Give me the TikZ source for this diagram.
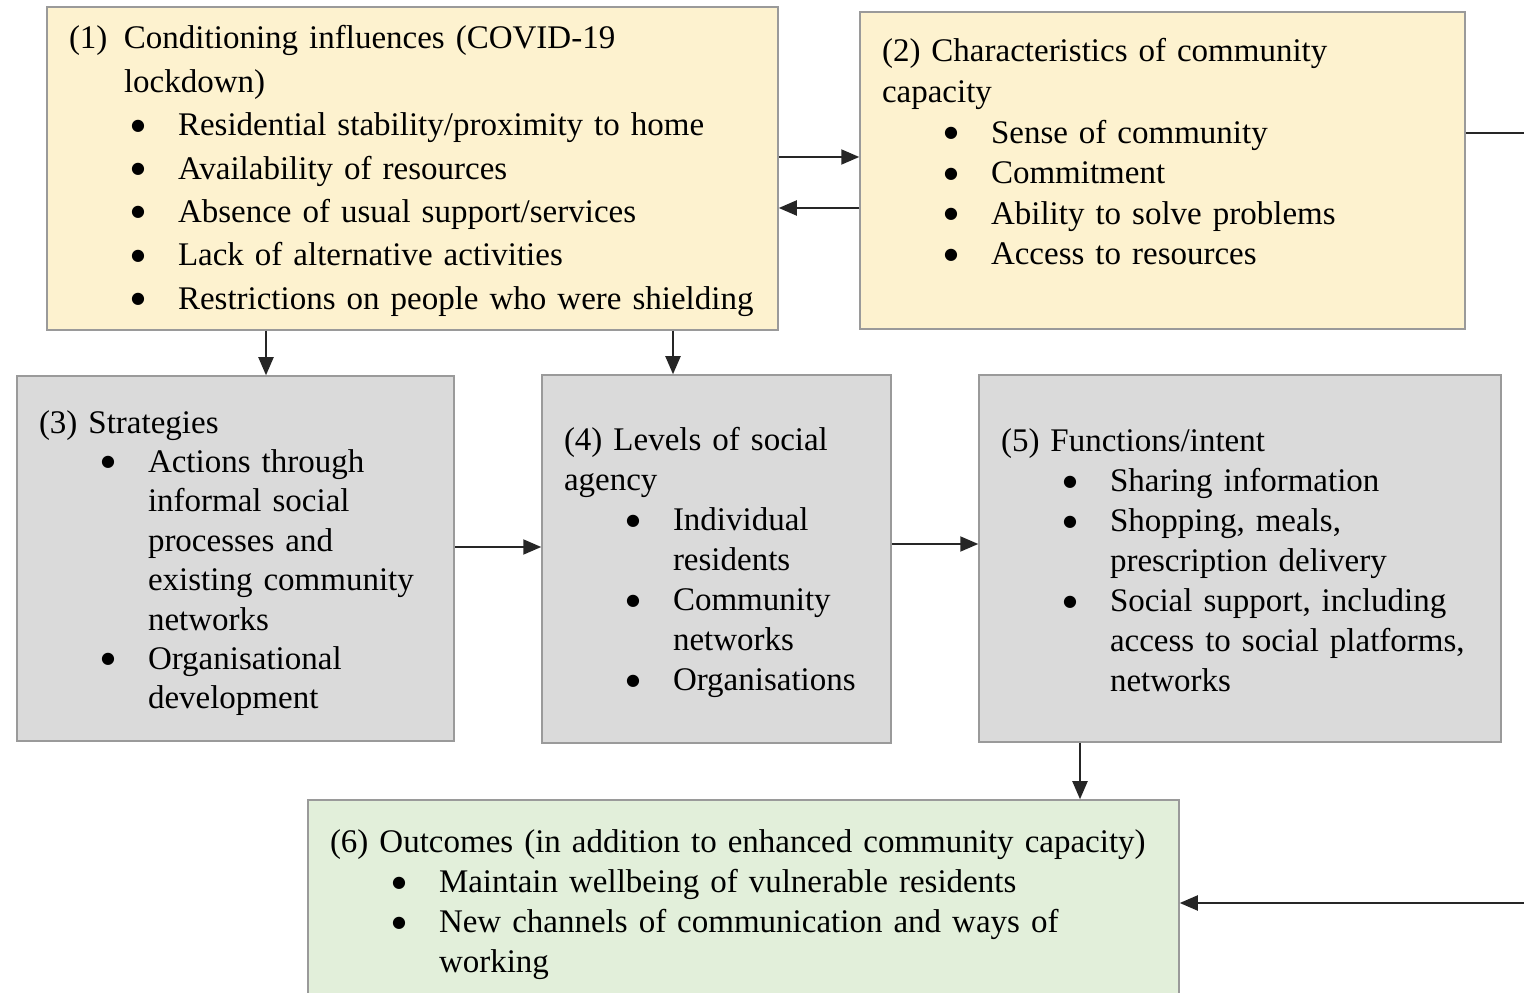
\documentclass[tikz,border=0pt]{standalone}
\usepackage{fontspec}
\setmainfont{Liberation Serif}
\newfontfamily\dotfont{DejaVu Sans}
\usetikzlibrary{arrows.meta}
\definecolor{boxyellow}{HTML}{FDF2CF}
\definecolor{boxgray}{HTML}{DADADA}
\definecolor{boxgreen}{HTML}{E2EFDA}
\definecolor{boxline}{HTML}{9A9A9A}
\newcommand{\bul}{\par\noindent\hangindent=109bp\hangafter=1\hspace*{62bp}\makebox[47bp][l]{\raisebox{5.5bp}{\dotfont\fontsize{16bp}{16bp}\selectfont ●}}}
\newcommand{\head}[1]{\noindent\hangindent=55bp\hangafter=1\makebox[55bp][l]{#1}}
\begin{document}
\begin{tikzpicture}[box/.style={draw=boxline,line width=1.5bp,rectangle,inner xsep=22bp,inner ysep=0bp,align=left,font=\fontsize{33bp}{40bp}\selectfont},
	arr/.style={-{Triangle[length=18bp,width=15bp]},line width=2bp,draw=black!85}]
		%%
  \useasboundingbox (0,0) rectangle (1524bp,993bp);
  \clip (0,0) rectangle (1524bp,993bp);
  \node (Cond) at (412.5bp,824.5bp) [box,fill=boxyellow,text width=687bp,minimum height=323bp,font=\fontsize{33bp}{43.4bp}\selectfont]
    {\head{(1)}Conditioning influences (COVID-19\newline lockdown)
     \bul Residential stability/proximity to home
     \bul Availability of resources
     \bul Absence of usual support/services
     \bul Lack of alternative activities
     \bul Restrictions on people who were shielding\par\kern-5bp};
  \node (Cap) at (1162.5bp,822.5bp) [box,fill=boxyellow,text width=561bp,minimum height=317bp,font=\fontsize{33bp}{40.6bp}\selectfont]
    {(2) Characteristics of community\newline capacity
     \bul Sense of community
     \bul Commitment
     \bul Ability to solve problems
     \bul Access to resources\par\kern37bp};
  \node (Strat) at (235.5bp,434.5bp) [box,fill=boxgray,text width=393bp,minimum height=365bp,font=\fontsize{33bp}{39.4bp}\selectfont]
    {(3) Strategies
     \bul Actions through\newline informal social\newline processes and\newline existing community\newline networks
     \bul Organisational\newline development\par\kern-9bp};
  \node (Agency) at (716.5bp,434bp) [box,fill=boxgray,text width=305bp,minimum height=368bp]
    {(4) Levels of social\newline agency
     \bul Individual\newline residents
     \bul Community\newline networks
     \bul Organisations\par\kern-7bp};
  \node (Func) at (1240bp,434.5bp) [box,fill=boxgray,text width=478bp,minimum height=367bp]
    {(5) Functions/intent
     \bul Sharing information
     \bul Shopping, meals,\newline prescription delivery
     \bul Social support, including\newline access to social platforms,\newline networks\par\kern-4bp};
  \node (Outc) at (743.5bp,91.5bp) [box,fill=boxgreen,text width=827bp,minimum height=203bp]
    {(6) Outcomes (in addition to enhanced community capacity)
     \bul Maintain wellbeing of vulnerable residents
     \bul New channels of communication and ways of\newline working\par\kern-7bp};
  \coordinate (ra) at (0,836bp);
  \coordinate (rb) at (0,785bp);
  \coordinate (ca) at (266bp,0);
  \coordinate (cb) at (673bp,0);
  \coordinate (rm) at (0,446bp);
  \coordinate (rn) at (0,449bp);
  \coordinate (cc) at (1080bp,0);
  \coordinate (Edge) at (1550bp,860bp);
  \coordinate (EdgeLow) at (1550bp,90bp);
  \draw [arr] (Cond.east |- ra) -- (Cap.west |- ra);
  \draw [arr] (Cap.west |- rb) -- (Cond.east |- rb);
  \draw [arr] (Cond.south -| ca) -- (Strat.north -| ca);
  \draw [arr] (Cond.south -| cb) -- (Agency.north -| cb);
  \draw [arr] (Strat.east |- rm) -- (Agency.west |- rm);
  \draw [arr] (Agency.east |- rn) -- (Func.west |- rn);
  \draw [arr] (Func.south -| cc) -- (Outc.north -| cc);
  \draw [arr] (Cap.east |- Edge) -- (Edge) -- (EdgeLow) -- (Outc.east |- EdgeLow);
		%
\end{tikzpicture}
\end{document}
